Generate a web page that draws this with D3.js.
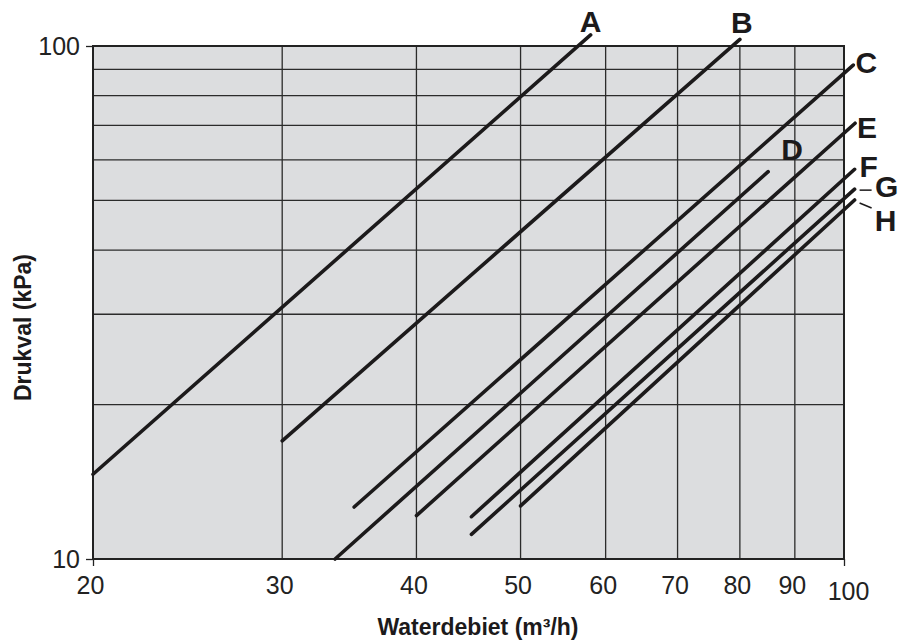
<!DOCTYPE html>
<html><head><meta charset="utf-8">
<script src="https://cdn.jsdelivr.net/npm/d3@7"></script>
<style>
html,body{margin:0;padding:0;background:#fff;}
svg{display:block;font-family:"Liberation Sans",Arial,Helvetica,sans-serif;}
</style></head>
<body>
<svg id="chart" width="914" height="644"></svg>
<script>
// ---- data ----
const xTickValues = [20, 30, 40, 50, 60, 70, 80, 90, 100];
const xGridValues = [30, 40, 50, 60, 70, 80, 90];
const yTickValues = [10, 100];
const yGridValues = [20, 30, 40, 50, 60, 70, 80, 90];
const curveNames = ["A", "B", "C", "D", "E", "F", "G", "H"];
const flowStart = [20, 30, 35, 33.6, 40, 45, 45, 50];
const flowEnd   = [58.1, 80, 102, 85, 102.4, 102.3, 102.3, 102.3];
const dropStart = [14.63, 17.0, 12.63, 10, 12.15, 12.09, 11.17, 12.69];
const dropEnd   = [105.1, 103, 91.8, 56.9, 70.7, 57.5, 52.6, 50.1];
const xTitle = "Waterdebiet (m³/h)";
const yTitle = "Drukval (kPa)";

// ---- layout ----
const W = 914, H = 644;
const m = {left: 93, right: 914 - 844, top: 46, bottom: 644 - 559};
const labelOffset = [[0,-3],[2,-6],[13,8],[24,-12],[12,15],[14,8],[32,8],[31,31]];

const svg = d3.select("#chart");
const x = d3.scaleLog().domain([20, 100]).range([m.left, W - m.right]);
const y = d3.scaleLog().domain([10, 100]).range([H - m.bottom, m.top]);

// plot background
svg.append("rect")
  .attr("x", x(20)).attr("y", y(100))
  .attr("width", x(100) - x(20)).attr("height", y(10) - y(100))
  .attr("fill", "#dcdddf");

// grid
svg.append("g").selectAll("line").data(xGridValues).join("line")
  .attr("x1", d => x(d)).attr("x2", d => x(d))
  .attr("y1", y(100)).attr("y2", y(10))
  .attr("stroke", "#2b2b2b").attr("stroke-width", 1.3);
svg.append("g").selectAll("line").data(yGridValues).join("line")
  .attr("x1", x(20)).attr("x2", x(100))
  .attr("y1", d => y(d)).attr("y2", d => y(d))
  .attr("stroke", "#2b2b2b").attr("stroke-width", 1.3);

// frame
svg.append("rect")
  .attr("x", x(20)).attr("y", y(100))
  .attr("width", x(100) - x(20)).attr("height", y(10) - y(100))
  .attr("fill", "none").attr("stroke", "#222").attr("stroke-width", 2);

// axes
const xAxis = svg.append("g").attr("transform", `translate(0,${y(10)})`)
  .call(d3.axisBottom(x).tickValues(xTickValues).tickFormat(d3.format("d")).tickSize(7).tickPadding(10));
xAxis.select(".domain").remove();
xAxis.selectAll(".tick line").attr("stroke", "#222").attr("stroke-width", 1.3)
  .attr("opacity", d => (d === 20 || d === 100) ? 1 : 0);
xAxis.selectAll(".tick text")
  .attr("font-size", 25).attr("fill", "#222")
  .attr("font-family", "Liberation Sans, Arial, sans-serif")
  .attr("dx", d => d === 100 ? 4 : -3)
  .attr("dy", d => d === 100 ? "0.95em" : "0.71em");

const yAxis = svg.append("g").attr("transform", `translate(${x(20)},0)`)
  .call(d3.axisLeft(y).tickValues(yTickValues).tickFormat(d3.format("d")).tickSize(7).tickPadding(6));
yAxis.select(".domain").remove();
yAxis.selectAll(".tick line").attr("stroke", "#222").attr("stroke-width", 1.3);
yAxis.selectAll(".tick text")
  .attr("font-size", 25).attr("fill", "#222")
  .attr("font-family", "Liberation Sans, Arial, sans-serif");

// curves
const curves = curveNames.map((n, i) => ({
  name: n,
  pts: [[flowStart[i], dropStart[i]], [flowEnd[i], dropEnd[i]]],
  off: labelOffset[i]
}));
const line = d3.line().x(d => x(d[0])).y(d => y(d[1]));
svg.append("g").selectAll("path").data(curves).join("path")
  .attr("d", d => line(d.pts))
  .attr("fill", "none").attr("stroke", "#1c1a1b")
  .attr("stroke-width", 3.6).attr("stroke-linecap", "round");

// curve labels
svg.append("g").selectAll("text").data(curves).join("text")
  .attr("x", d => x(d.pts[1][0]) + d.off[0])
  .attr("y", d => y(d.pts[1][1]) + d.off[1])
  .attr("text-anchor", "middle")
  .attr("font-size", 30).attr("font-weight", "bold").attr("fill", "#1c1a1b")
  .text(d => d.name);

// leaders for G and H
const gC = curves[6], hC = curves[7];
svg.append("line")
  .attr("x1", x(gC.pts[1][0]) + 5).attr("y1", y(gC.pts[1][1]) + 1)
  .attr("x2", x(gC.pts[1][0]) + 17).attr("y2", y(gC.pts[1][1]) + 1)
  .attr("stroke", "#1c1a1b").attr("stroke-width", 1.5);
svg.append("line")
  .attr("x1", x(hC.pts[1][0]) + 5).attr("y1", y(hC.pts[1][1]) + 3)
  .attr("x2", x(hC.pts[1][0]) + 17).attr("y2", y(hC.pts[1][1]) + 8)
  .attr("stroke", "#1c1a1b").attr("stroke-width", 1.5);

// axis titles
svg.append("text")
  .attr("x", 478).attr("y", 635)
  .attr("text-anchor", "middle").attr("font-size", 23).attr("font-weight", "bold").attr("fill", "#1c1a1b")
  .text(xTitle);

svg.append("text")
  .attr("transform", `translate(31,${(y(10) + y(100)) / 2 + 25}) rotate(-90)`)
  .attr("text-anchor", "middle").attr("font-size", 23).attr("font-weight", "bold").attr("fill", "#1c1a1b")
  .text(yTitle);
</script>
</body></html>
